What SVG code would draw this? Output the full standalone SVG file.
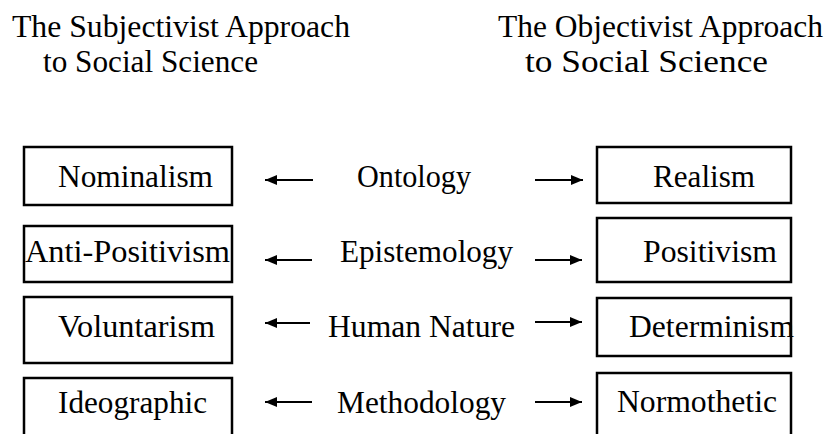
<svg xmlns="http://www.w3.org/2000/svg" width="829" height="434" viewBox="0 0 829 434">
  <defs>
    <marker id="head" markerUnits="userSpaceOnUse" markerWidth="14" markerHeight="12" refX="12" refY="5" orient="auto">
      <path d="M0,0 L12,5 L0,10 Z" fill="#000"/>
    </marker>
    <style>
      text { font-family: "Liberation Serif", "Times New Roman", serif; font-size: 32px; fill: #000; }
      .box { fill: none; stroke: #000; stroke-width: 2.5; }
      .arrow { stroke: #000; stroke-width: 2.2; fill: none; marker-end: url(#head); }
    </style>
  </defs>
  <rect width="829" height="434" fill="#fff"/>

  <!-- column headings -->
  <g id="heading-subjectivist">
    <text x="12" y="37" textLength="338" lengthAdjust="spacingAndGlyphs">The Subjectivist Approach</text>
    <text x="43" y="72" textLength="215" lengthAdjust="spacingAndGlyphs">to Social Science</text>
  </g>
  <g id="heading-objectivist">
    <text x="498" y="37" textLength="325" lengthAdjust="spacingAndGlyphs">The Objectivist Approach</text>
    <text x="525" y="72" textLength="243" lengthAdjust="spacingAndGlyphs">to Social Science</text>
  </g>

  <!-- subjectivist column -->
  <g id="nominalism">
    <rect class="box" x="24" y="147" width="208" height="58"/>
    <text x="58" y="187" textLength="155" lengthAdjust="spacingAndGlyphs">Nominalism</text>
  </g>
  <g id="anti-positivism">
    <rect class="box" x="24" y="226" width="208" height="56"/>
    <text x="25" y="262" textLength="205" lengthAdjust="spacingAndGlyphs">Anti-Positivism</text>
  </g>
  <g id="voluntarism">
    <rect class="box" x="24" y="297" width="208" height="66"/>
    <text x="58" y="337" textLength="157" lengthAdjust="spacingAndGlyphs">Voluntarism</text>
  </g>
  <g id="ideographic">
    <rect class="box" x="24" y="378" width="208" height="70"/>
    <text x="58" y="413" textLength="149" lengthAdjust="spacingAndGlyphs">Ideographic</text>
  </g>

  <!-- dimension labels -->
  <g id="ontology">
    <text x="357" y="187" textLength="114" lengthAdjust="spacingAndGlyphs">Ontology</text>
  </g>
  <g id="epistemology">
    <text x="340" y="262" textLength="173" lengthAdjust="spacingAndGlyphs">Epistemology</text>
  </g>
  <g id="human-nature">
    <text x="328" y="337" textLength="187" lengthAdjust="spacingAndGlyphs">Human Nature</text>
  </g>
  <g id="methodology">
    <text x="337" y="413" textLength="169" lengthAdjust="spacingAndGlyphs">Methodology</text>
  </g>

  <!-- objectivist column -->
  <g id="realism">
    <rect class="box" x="597" y="147" width="194" height="56"/>
    <text x="653" y="187" textLength="102" lengthAdjust="spacingAndGlyphs">Realism</text>
  </g>
  <g id="positivism">
    <rect class="box" x="597" y="218" width="194" height="64"/>
    <text x="643" y="262" textLength="134" lengthAdjust="spacingAndGlyphs">Positivism</text>
  </g>
  <g id="determinism">
    <rect class="box" x="597" y="298" width="194" height="58"/>
    <text x="629" y="337" textLength="165" lengthAdjust="spacingAndGlyphs">Determinism</text>
  </g>
  <g id="normothetic">
    <rect class="box" x="597" y="373" width="194" height="75"/>
    <text x="617" y="412" textLength="160" lengthAdjust="spacingAndGlyphs">Normothetic</text>
  </g>

  <!-- connectors -->
  <g id="connectors">
    <line class="arrow" x1="313" y1="180" x2="265" y2="180"/>
    <line class="arrow" x1="535" y1="180" x2="583" y2="180"/>
    <line class="arrow" x1="312" y1="260" x2="265" y2="260"/>
    <line class="arrow" x1="535" y1="260" x2="582" y2="260"/>
    <line class="arrow" x1="310" y1="323" x2="265" y2="323"/>
    <line class="arrow" x1="535" y1="322" x2="582" y2="322"/>
    <line class="arrow" x1="312" y1="402" x2="265" y2="402"/>
    <line class="arrow" x1="535" y1="402" x2="582" y2="402"/>
  </g>
</svg>
